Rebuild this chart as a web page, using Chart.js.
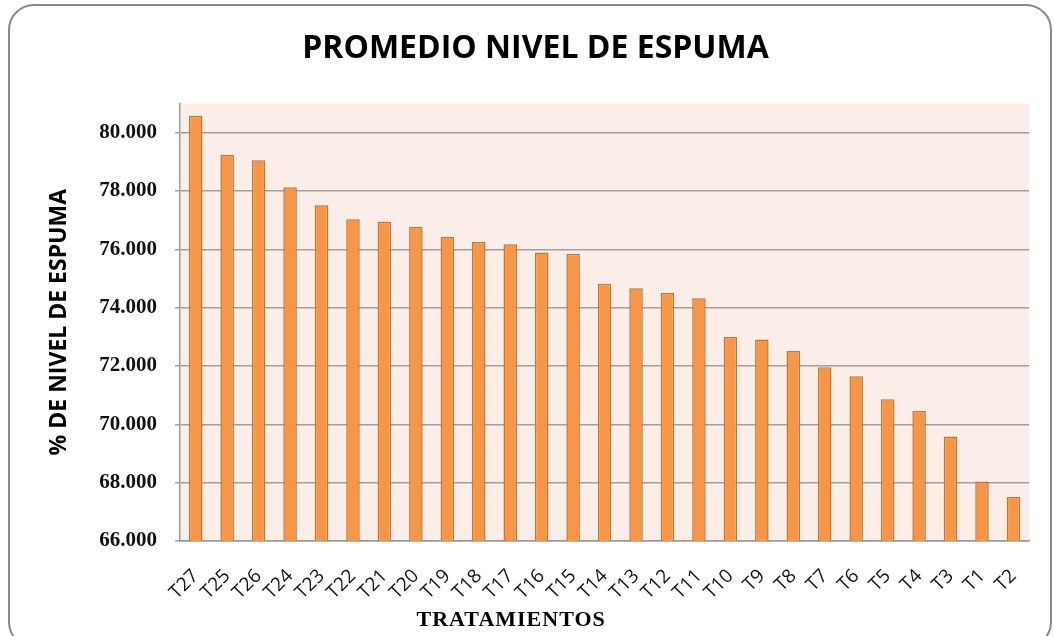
<!DOCTYPE html>
<html>
<head>
<meta charset="utf-8">
<script src="https://cdn.jsdelivr.net/npm/chart.js@4.4.0/dist/chart.umd.min.js"></script>
<style>
  html, body { margin: 0; padding: 0; background: #fff; }
  #wrap { position: relative; width: 1054px; height: 636px; overflow: hidden; }
  #marco {
    position: absolute; left: 8px; top: 4px; width: 1040px; height: 640px;
    border: 2px solid #8a8a8a; border-radius: 26px; pointer-events: none;
  }
</style>
</head>
<body>
<div id="wrap">
  <canvas id="graficoEspuma" width="1054" height="636"></canvas>
  <div id="marco"></div>
</div>
<script>
/* datos del grafico: promedio nivel de espuma por tratamiento */

const tratamientos = ['T27', 'T25', 'T26', 'T24', 'T23', 'T22', 'T21', 'T20', 'T19', 'T18',
  'T17', 'T16', 'T15', 'T14', 'T13', 'T12', 'T11', 'T10', 'T9', 'T8',
  'T7', 'T6', 'T5', 'T4', 'T3', 'T1', 'T2'];

const nivelEspuma = [80.58, 79.24, 79.05, 78.13, 77.51, 77.03, 76.94, 76.77, 76.42, 76.25,
  76.17, 75.89, 75.85, 74.81, 74.66, 74.50, 74.32, 72.99, 72.91, 72.51,
  71.96, 71.65, 70.86, 70.46, 69.58, 68.04, 67.52];

const marcasY = [66, 68, 70, 72, 74, 76, 78, 80];

// fondo rosado del area de trazado
const fondoArea = {
  id: 'fondoArea',
  beforeDraw(chart) {
    const { ctx, chartArea } = chart;
    ctx.save();
    ctx.fillStyle = '#FBEEE9';
    ctx.fillRect(chartArea.left, chartArea.top, chartArea.right - chartArea.left, chartArea.bottom - chartArea.top);
    ctx.restore();
  }
};

// titulo del eje X (va algo a la izquierda del centro, como en el original)
const tituloX = {
  id: 'tituloX',
  afterDraw(chart) {
    const { ctx } = chart;
    const x = chart.scales.x;
    ctx.save();
    ctx.font = 'bold 22px "Liberation Serif", serif';
    ctx.letterSpacing = '1px';
    ctx.fillStyle = '#000';
    ctx.textAlign = 'center';
    ctx.textBaseline = 'middle';
    ctx.fillText('TRATAMIENTOS', x.left + (x.right - x.left) * 0.39, 620);
    ctx.restore();
  }
};

const ctx = document.getElementById('graficoEspuma');

new Chart(ctx, {
  type: 'bar',
  data: {
    labels: tratamientos,
    datasets: [{
      label: 'Promedio',
      data: nivelEspuma,
      backgroundColor: '#F79646',
      borderColor: '#C2773A',
      borderWidth: 1.5,
      borderSkipped: 'bottom',
      categoryPercentage: 1,
      barPercentage: 0.43
    }]
  },
  options: {
    responsive: false,
    animation: false,
    layout: {
      padding: { left: 40, right: 23, top: 0, bottom: 0 }
    },
    plugins: {
      legend: { display: false },
      tooltip: { enabled: false },
      title: {
        display: true,
        text: 'PROMEDIO NIVEL DE ESPUMA',
        color: '#000',
        font: { family: '"Open Sans"', size: 32, weight: 'bold', lineHeight: 1.2 },
        padding: { top: 30, bottom: 35 }
      }
    },
    scales: {
      x: {
        grid: { display: false, drawTicks: false },
        border: { color: '#9a9a9a', width: 1.5 },
        ticks: {
          color: '#111',
          autoSkip: false,
          minRotation: 45,
          maxRotation: 45,
          padding: 24,
          font: { family: '"Open Sans"', size: 19 }
        },
        afterFit(scale) { scale.height = 95; }
      },
      y: {
        min: 66,
        max: 81,
        border: { color: '#9a9a9a', width: 1.5 },
        grid: { color: '#a0a0a0', lineWidth: 1.5, tickLength: 5 },
        ticks: {
          color: '#111',
          padding: 18,
          font: { family: '"Liberation Serif"', size: 21, weight: 'bold' },
          callback: v => v.toFixed(3)
        },
        afterBuildTicks(scale) {
          scale.ticks = marcasY.map(v => ({ value: v }));
        },
        afterFit(scale) { scale.width = 140; },
        title: {
          display: true,
          text: '% DE NIVEL DE ESPUMA',
          color: '#000',
          font: { family: '"Open Sans"', size: 23, weight: 'bold', lineHeight: 1.2 },
          padding: { top: 6, bottom: 0 }
        }
      }
    }
  },
  plugins: [fondoArea, tituloX]
});
</script>
</body>
</html>
